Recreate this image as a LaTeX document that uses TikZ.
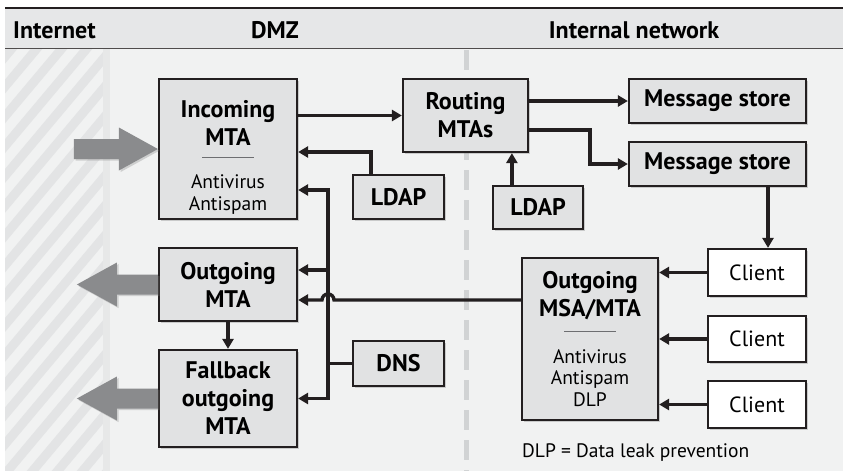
\documentclass[tikz,border=0pt]{standalone}
\usepackage{fontspec}
\setmainfont{PT Sans}
\usetikzlibrary{arrows.meta,shadows}

\definecolor{ink}{HTML}{231F20}
\definecolor{hdrgray}{HTML}{E6E7E8}
\definecolor{bggray}{HTML}{F1F2F2}
\definecolor{stripegray}{HTML}{E3E4E5}
\definecolor{bandgray}{HTML}{E7E8E8}
\definecolor{boxgray}{HTML}{E1E2E3}
\definecolor{bigarrow}{HTML}{8A8B8D}
\definecolor{dashgray}{HTML}{D1D3D4}
\definecolor{rulegray}{HTML}{6D6E71}

\newcommand\bxfont{\fontsize{24}{28}\selectfont\bfseries}
\newcommand\bxsub{\fontsize{19.5}{21.5}\selectfont\mdseries}
\newcommand\bxrule{\par\nointerlineskip\vskip11pt{\color{rulegray}\rule{52pt}{1.2pt}}\par\nointerlineskip\vskip17pt}

\begin{document}
\begin{tikzpicture}[
    x=1pt, y=-1pt,
    >={Triangle[length=10pt,width=11pt]},
  box/.style={draw=ink, line width=2.2pt, fill=boxgray, font=\bxfont, align=center, inner sep=2pt,
    drop shadow={shadow xshift=1.6pt, shadow yshift=-1.6pt, opacity=.35}},
  cbox/.style={box, fill=white, font=\fontsize{22}{27}\selectfont},
  tbox/.style={box, text width=#1, execute at begin node=\parindent0pt},
  arr/.style={draw=ink, line width=3.4pt, ->},
  ln/.style={draw=ink, line width=3.4pt},
  big/.style={fill=bigarrow, drop shadow={shadow xshift=1.6pt, shadow yshift=-1.6pt, opacity=.3}},
  hdr/.style={font=\bxfont, inner sep=0pt, anchor=base}
]
\useasboundingbox (0,0) rectangle (843,471);
\fill[white] (0,0) rectangle (843,471);

% --- zones ---
\fill[bggray] (5,48) rectangle (843,471);
\begin{scope}
  \clip (5,48) rectangle (103,471);
  \foreach \a in {-400,-375,...,125}
    \draw[stripegray, line width=9pt] (\a,480) -- ++(369,-440);
\end{scope}
\fill[bandgray] (103,48) rectangle (110,471);
\draw[dashgray, line width=5pt, dash pattern=on 20pt off 10pt] (466,50) -- (466,471);

% --- header ---
\fill[hdrgray] (5,8) rectangle (843,48);
\draw[ink, line width=2.4pt] (5,8) -- (843,8);
\draw[ink!80, line width=1pt] (5,48) -- (843,48);
\node[hdr, anchor=base west] (hinet) at (13,38) {Internet};
\node[hdr] (hdmz) at (275,38) {DMZ};
\node[hdr] (hint) at (634,38) {Internal network};

% --- DMZ ---
\node[tbox=134pt, minimum width=138pt, minimum height=140pt] (incoming) at (228,149)
  {\vskip6pt Incoming\\MTA\bxrule\bxsub Antivirus\\Antispam\par};
\node[box, minimum width=138pt, minimum height=73pt] (outmta) at (228,284.5) {Outgoing\\MTA};
\node[box, minimum width=138pt, minimum height=97pt] (fallback) at (228,398.5) {Fallback\\outgoing\\MTA};
\node[box, minimum width=91pt, minimum height=44pt] (ldapa) at (398.5,197) {LDAP};
\node[box, minimum width=91pt, minimum height=45pt] (dns) at (398.5,363.5) {DNS};

% --- internal network ---
\node[box, minimum width=125pt, minimum height=73pt] (routing) at (465.5,115.5) {Routing\\MTAs};
\node[box, minimum width=90pt, minimum height=43pt] (ldapb) at (538,207.5) {LDAP};
\node[box, minimum width=177pt, minimum height=44pt] (storea) at (717.5,101) {Message store};
\node[box, minimum width=177pt, minimum height=44pt] (storeb) at (717.5,164) {Message store};
\node[tbox=132pt, minimum width=136pt, minimum height=162pt] (msa) at (590,339)
  {Outgoing\\MSA/MTA\bxrule\bxsub Antivirus\\Antispam\\DLP\par};
\node[cbox, minimum width=98pt, minimum height=47pt] (clienta) at (757,272.5) {Client};
\node[cbox, minimum width=98pt, minimum height=46pt] (clientb) at (757,339) {Client};
\node[cbox, minimum width=98pt, minimum height=47pt] (clientc) at (757,404.5) {Client};
\node[anchor=base west, font=\bxsub, inner sep=0pt] (note) at (522,457) {DLP = Data leak prevention};

% --- big arrows at the Internet edge ---
\fill[big] (incoming.west) -- ++(-39,-21.5) -- ++(0,11.5) -- ++(-45,0) -- ++(0,20) -- ++(45,0) -- ++(0,11.5) -- cycle;
\fill[big] ([yshift=10pt]outmta.west) -- ++(-41,0) -- ++(0,-12) -- ++(-40,22) -- ++(40,22) -- ++(0,-12) -- ++(41,0) -- cycle;
\fill[big] ([yshift=10pt]fallback.west) -- ++(-41,0) -- ++(0,-12) -- ++(-40,22) -- ++(40,22) -- ++(0,-12) -- ++(41,0) -- cycle;

% --- connectors ---
\draw[arr] (incoming.east |- routing.west) -- (routing.west);
\draw[arr] ([xshift=19pt]ldapa.north west) |- ([yshift=-3pt]incoming.east);
\draw[arr] ([xshift=20pt]ldapb.north west) -- ([xshift=20pt]ldapb.north west |- routing.south);
\draw[arr] (routing.east |- storea.west) -- (storea.west);
\draw[arr] ([yshift=-14.5pt]routing.east) -- ++(61,0) |- (storeb.west);
\draw[arr] ([xshift=11pt]clienta.north |- storeb.south) -- ([xshift=11pt]clienta.north);
\foreach \c in {clienta,clientb,clientc}
  \draw[arr] (\c.west) -- (\c.west -| msa.east);
\draw[arr] (outmta) -- (fallback);

% DNS bus
\coordinate (bt) at (328,190);
\coordinate (bb) at (328,398.5);
\coordinate (bm) at (328,270);
\coordinate (hop) at (328,300);
\draw[arr, <->] (bt -| incoming.east) -- (bt) -- (bb) -- (bb -| fallback.east);
\draw[arr] (bm) -- (bm -| outmta.east);
\draw[ln] (dns.west) -- (dns.west -| bt);
\draw[arr] (msa.west |- hop) -- ([xshift=6pt]hop) arc[start angle=0, end angle=180, radius=6pt] -- (hop -| outmta.east);
\end{tikzpicture}
\end{document}
